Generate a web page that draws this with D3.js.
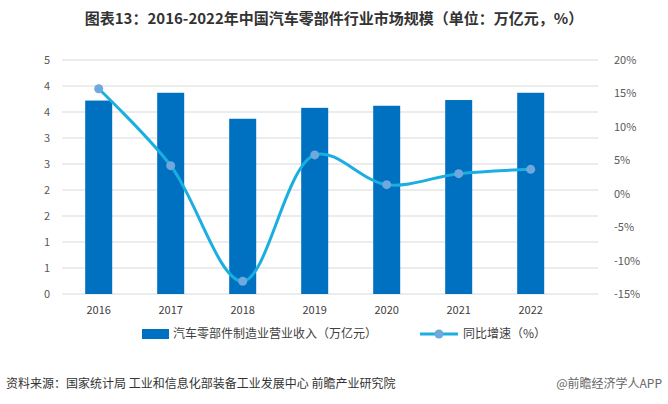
<!DOCTYPE html><html><head><meta charset="utf-8"><script src="https://cdn.jsdelivr.net/npm/d3@7"></script>
<style>body{margin:0;background:#fff;font-family:"Microsoft YaHei","Noto Sans CJK SC",sans-serif}</style></head><body>
<svg id="c" width="668" height="404"></svg>
<script>
const years=["2016","2017","2018","2019","2020","2021","2022"];
const revenue=[3.72,3.87,3.37,3.58,3.62,3.73,3.87];
const growth=[15.7,4.2,-13.1,5.8,1.35,3.0,3.65];
const leftTicks=[0,0.5,1,1.5,2,2.5,3,3.5,4,4.5];
const leftLabels=["0","1","1","2","2","3","3","4","4","5"];
const rightTicks=[-15,-10,-5,0,5,10,15,20];
const svg=d3.select("#c");
const x=d3.scaleBand().domain(years).range([62.7,566.7]).paddingInner(0.625).paddingOuter(0.3125);
const yL=d3.scaleLinear().domain([0,4.5]).range([294,60]);
const yR=d3.scaleLinear().domain([-15,20]).range([294,60]);
svg.append("text").attr("x",334).attr("y",24).attr("text-anchor","middle").attr("font-size",15).attr("font-weight","bold").attr("fill","#333").text("图表13：2016-2022年中国汽车零部件行业市场规模（单位：万亿元，%）");
svg.append("g").selectAll("line").data(leftTicks).join("line").attr("x1",62).attr("x2",598).attr("y1",d=>yL(d)).attr("y2",d=>yL(d)).attr("stroke","#d9d9d9");
svg.append("g").selectAll("text").data(leftTicks).join("text").attr("x",50).attr("y",d=>yL(d)+4).attr("text-anchor","end").attr("font-size",11).attr("fill","#595959").text((d,i)=>leftLabels[i]);
svg.append("g").selectAll("text").data(rightTicks).join("text").attr("x",614).attr("y",d=>yR(d)+4).attr("font-size",11).attr("fill","#595959").text(d=>d+"%");
svg.append("g").selectAll("rect").data(revenue).join("rect").attr("x",(d,i)=>x(years[i])).attr("width",x.bandwidth()).attr("y",d=>yL(d)).attr("height",d=>294-yL(d)).attr("fill","#0070c0");
svg.append("g").selectAll("text").data(years).join("text").attr("x",d=>x(d)+x.bandwidth()/2).attr("y",314).attr("text-anchor","middle").attr("font-size",11).attr("fill","#404040").text(d=>d);
const pts=growth.map((g,i)=>[x(years[i])+x.bandwidth()/2,yR(g)]);
svg.append("path").attr("d",d3.line().curve(d3.curveCatmullRom.alpha(0.5))(pts)).attr("fill","none").attr("stroke","#1aafe0").attr("stroke-width",3);
svg.append("g").selectAll("circle").data(pts).join("circle").attr("cx",d=>d[0]).attr("cy",d=>d[1]).attr("r",4.5).attr("fill","#6fa8dc");
const lg=svg.append("g");
lg.append("rect").attr("x",142).attr("y",329).attr("width",27).attr("height",10).attr("fill","#0070c0");
lg.append("text").attr("x",173).attr("y",338).attr("font-size",12).attr("fill","#404040").text("汽车零部件制造业营业收入（万亿元）");
lg.append("line").attr("x1",420).attr("x2",458).attr("y1",334).attr("y2",334).attr("stroke","#1aafe0").attr("stroke-width",3);
lg.append("circle").attr("cx",439).attr("cy",334).attr("r",4.5).attr("fill","#6fa8dc");
lg.append("text").attr("x",463).attr("y",338).attr("font-size",12).attr("fill","#404040").text("同比增速（%）");
svg.append("text").attr("x",6).attr("y",388).attr("font-size",12).attr("fill","#333").text("资料来源：国家统计局 工业和信息化部装备工业发展中心 前瞻产业研究院");
svg.append("text").attr("x",662).attr("y",388).attr("text-anchor","end").attr("font-size",12).attr("fill","#666").text("@前瞻经济学人APP");
</script></body></html>
